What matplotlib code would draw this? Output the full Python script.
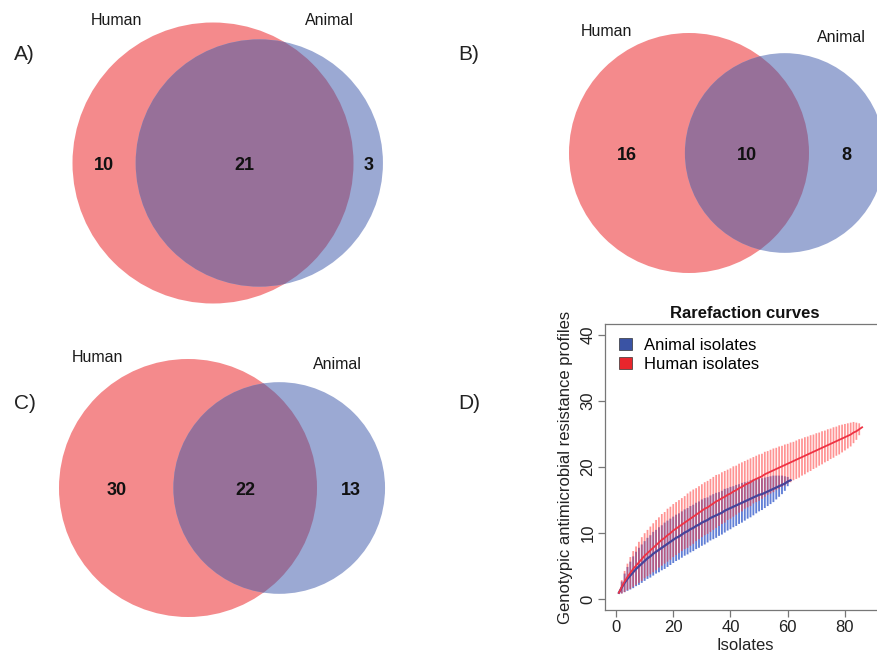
import numpy as np
import matplotlib
matplotlib.use("Agg")
import matplotlib.pyplot as plt
from matplotlib.patches import Circle, Patch

plt.rcParams['font.family'] = ['Liberation Sans', 'DejaVu Sans']

# ---------------- Venn data ----------------
venn_panels = ["A)", "B)", "C)"]
human_only = [10, 16, 30]
shared = [21, 10, 22]
animal_only = [3, 8, 13]
set_names = ["Human", "Animal"]

# ---------------- Rarefaction data ----------------
human_isolates = list(range(1, 87))
human_mean = [1.0, 1.9, 2.7, 3.4, 4.0, 4.6, 5.1, 5.6, 6.1, 6.6,
              7.0, 7.4, 7.8, 8.2, 8.6, 9.0, 9.3, 9.7, 10.0, 10.4,
              10.7, 11.0, 11.3, 11.6, 11.9, 12.2, 12.5, 12.8, 13.1, 13.4,
              13.7, 13.9, 14.2, 14.5, 14.8, 15.0, 15.3, 15.5, 15.8, 16.0,
              16.3, 16.5, 16.8, 17.0, 17.3, 17.5, 17.7, 18.0, 18.2, 18.4,
              18.6, 18.9, 19.1, 19.3, 19.5, 19.7, 19.9, 20.1, 20.3, 20.5,
              20.7, 20.9, 21.1, 21.3, 21.5, 21.7, 21.9, 22.1, 22.3, 22.5,
              22.7, 22.9, 23.1, 23.3, 23.5, 23.7, 23.9, 24.1, 24.3, 24.5,
              24.7, 24.9, 25.2, 25.4, 25.7, 26.0]
human_ci = [0.0, 1.0, 1.6, 2.0, 2.4, 2.7, 2.9, 3.1, 3.3, 3.4,
            3.5, 3.6, 3.7, 3.8, 3.8, 3.9, 3.9, 4.0, 4.0, 4.0,
            4.0, 4.0, 4.0, 4.0, 4.1, 4.1, 4.1, 4.0, 4.0, 4.0,
            4.0, 4.0, 4.0, 4.0, 4.0, 3.9, 3.9, 3.9, 3.8, 3.8,
            3.8, 3.7, 3.7, 3.7, 3.6, 3.6, 3.6, 3.5, 3.5, 3.5,
            3.4, 3.4, 3.3, 3.3, 3.3, 3.2, 3.2, 3.1, 3.1, 3.0,
            3.0, 2.9, 2.9, 2.9, 2.8, 2.8, 2.7, 2.7, 2.6, 2.6,
            2.5, 2.5, 2.4, 2.4, 2.3, 2.3, 2.2, 2.2, 2.1, 2.0,
            1.9, 1.8, 1.6, 1.3, 0.9, 0.0]

animal_isolates = list(range(1, 62))
animal_mean = [1.0, 1.8, 2.5, 3.1, 3.6, 4.1, 4.6, 5.0, 5.4, 5.8,
               6.2, 6.5, 6.9, 7.2, 7.5, 7.8, 8.1, 8.4, 8.7, 9.0,
               9.3, 9.5, 9.8, 10.1, 10.3, 10.6, 10.8, 11.1, 11.3, 11.6,
               11.8, 12.0, 12.3, 12.5, 12.7, 12.9, 13.1, 13.4, 13.6, 13.8,
               14.0, 14.2, 14.4, 14.6, 14.8, 15.0, 15.2, 15.4, 15.6, 15.8,
               15.9, 16.1, 16.3, 16.5, 16.7, 16.9, 17.1, 17.3, 17.5, 17.8,
               18.0]
animal_ci = [0.0, 0.9, 1.4, 1.8, 2.1, 2.4, 2.6, 2.8, 2.9, 3.0,
             3.1, 3.2, 3.3, 3.3, 3.4, 3.4, 3.5, 3.5, 3.5, 3.5,
             3.5, 3.5, 3.5, 3.5, 3.5, 3.5, 3.5, 3.5, 3.5, 3.5,
             3.5, 3.4, 3.4, 3.4, 3.4, 3.3, 3.3, 3.3, 3.2, 3.2,
             3.1, 3.1, 3.0, 3.0, 2.9, 2.8, 2.8, 2.7, 2.6, 2.5,
             2.4, 2.3, 2.2, 2.1, 2.0, 1.8, 1.6, 1.4, 1.1, 0.7,
             0.0]
legend_labels = ["Animal isolates", "Human isolates"]
x_ticks = [0, 20, 40, 60, 80]
y_ticks = [0, 10, 20, 30, 40]

# ---------------- layout (pixels) ----------------
W, H = 877, 654
human_center = [(213, 163), (689, 153), (188, 488)]
human_radius = [140.5, 120.0, 129.0]
name_pos = [((116, 25), (329, 25)), ((606, 36.5), (841, 41.5)), ((97, 361.5), (337, 369))]
letter_pos = [(14, 60), (458, 60), (14, 409)]
num_baseline_off = 7

RED = "#F48A8C"
BLUE = "#9BA9D3"
OVER = "#977099"


def lens_area(r1, r2, d):
    if d >= r1 + r2:
        return 0.0
    if d <= abs(r1 - r2):
        return np.pi * min(r1, r2) ** 2
    a1 = np.arccos((d * d + r1 * r1 - r2 * r2) / (2 * d * r1))
    a2 = np.arccos((d * d + r2 * r2 - r1 * r1) / (2 * d * r2))
    k = 0.5 * np.sqrt((-d + r1 + r2) * (d + r1 - r2) * (d - r1 + r2) * (d + r1 + r2))
    return r1 * r1 * a1 + r2 * r2 * a2 - k


def solve_distance(r1, r2, target):
    lo, hi = abs(r1 - r2), r1 + r2
    for _ in range(100):
        mid = 0.5 * (lo + hi)
        if lens_area(r1, r2, mid) > target:
            lo = mid
        else:
            hi = mid
    return 0.5 * (lo + hi)


fig = plt.figure(figsize=(W / 100, H / 100), dpi=100)
ov = fig.add_axes([0, 0, 1, 1])
ov.set_xlim(0, W)
ov.set_ylim(H, 0)
ov.axis("off")

for i in range(3):
    nh = human_only[i] + shared[i]
    na = animal_only[i] + shared[i]
    rh = human_radius[i]
    ra = rh * np.sqrt(na / nh)
    target = np.pi * rh * rh * shared[i] / nh
    d = solve_distance(rh, ra, target)
    cx, cy = human_center[i]
    ax_c = cx + d
    c_h = Circle((cx, cy), rh, facecolor=RED, edgecolor="none", zorder=1)
    c_a = Circle((ax_c, cy), ra, facecolor=BLUE, edgecolor="none", zorder=2)
    ov.add_patch(c_h)
    ov.add_patch(c_a)
    c_o = Circle((ax_c, cy), ra, facecolor=OVER, edgecolor="none", zorder=3)
    ov.add_patch(c_o)
    c_o.set_clip_path(Circle((cx, cy), rh, transform=ov.transData))
    left_h = cx - rh
    left_a = ax_c - ra
    right_h = cx + rh
    right_a = ax_c + ra
    yb = cy + num_baseline_off
    kw = dict(fontsize=13, fontweight="bold", ha="center", va="baseline", color="#111111", zorder=5)
    ov.text((left_h + left_a) / 2, yb, str(human_only[i]), **kw)
    ov.text((left_a + right_h) / 2, yb, str(shared[i]), **kw)
    ov.text((right_h + right_a) / 2, yb, str(animal_only[i]), **kw)
    for j in range(2):
        px, py = name_pos[i][j]
        ov.text(px, py, set_names[j], fontsize=11.5, ha="center", va="baseline", color="#1a1a1a")
    lx, ly = letter_pos[i]
    ov.text(lx, ly, venn_panels[i], fontsize=15, ha="left", va="baseline", color="#222222")

ov.text(458, 409, "D)", fontsize=15, ha="left", va="baseline", color="#222222")

# ---------------- Rarefaction panel ----------------
left, right, bottom, top = 605, 885, 610, 324
ax = fig.add_axes([left / W, 1 - bottom / H, (right - left) / W, (bottom - top) / H])
ax.set_xlim(-3.85, 94)
ax.set_ylim(-1.6, 41.6)

am = np.array(animal_mean)
ac = np.array(animal_ci)
hm = np.array(human_mean)
hc = np.array(human_ci)

vb = ax.vlines(animal_isolates, am - ac, am + ac, colors="#3A5FCC", alpha=0.8, linewidth=1.35, zorder=2)
vr = ax.vlines(human_isolates, hm - hc, hm + hc, colors="#FF3A3A", alpha=0.55, linewidth=1.25, zorder=3)
vb.set_snap(False)
vr.set_snap(False)
ax.plot(animal_isolates, animal_mean, color="#45449A", linewidth=1.6, zorder=4)
ax.plot(human_isolates, human_mean, color="#EE3344", linewidth=1.3, zorder=5)

ax.set_xticks(x_ticks)
ax.set_yticks(y_ticks)
for s in ax.spines.values():
    s.set_color("#777777")
    s.set_linewidth(0.9)
ax.tick_params(axis="both", direction="out", length=5, width=0.9, color="#777777",
               labelsize=12, labelcolor="#222222", pad=2)
ax.tick_params(axis="y", labelrotation=90)
for lbl in ax.get_yticklabels():
    lbl.set_va("center")
ax.set_xlabel("Isolates", fontsize=12, color="#222222", labelpad=2)
ax.set_ylabel("Genotypic antimicrobial resistance profiles", fontsize=12, color="#222222", labelpad=5)
ax.set_title("Rarefaction curves", fontsize=12, fontweight="bold", color="#111111", pad=4)

handles = [Patch(facecolor="#3A53A4", edgecolor="#333333", linewidth=0.5),
           Patch(facecolor="#E8262C", edgecolor="#333333", linewidth=0.5)]
fig.legend(handles, legend_labels, loc="upper left", bbox_to_anchor=(619 / W, 1 - 338 / H),
           frameon=False, fontsize=12, handlelength=0.75, handleheight=0.75,
           handletextpad=0.75, labelspacing=0.25, borderpad=0, borderaxespad=0)

fig.savefig("out.png", dpi=100)
